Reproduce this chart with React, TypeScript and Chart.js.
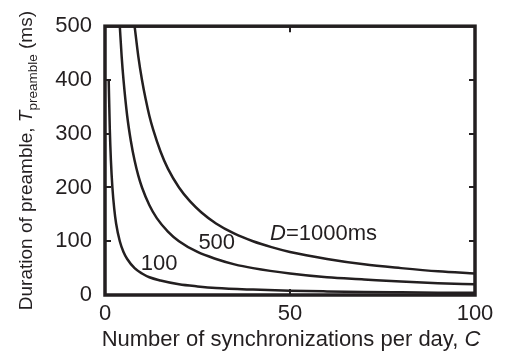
import React, { useEffect, useRef } from "react";
import { Chart, registerables } from "chart.js";

Chart.register(...registerables);

// Curve data: C (synchronizations/day) vs T_preamble (ms)
const cD100 = [1, 1.3, 1.6, 2, 2.5, 3, 4, 5, 6, 8, 10, 12, 15, 20, 25, 30, 40, 50, 60, 70, 80, 90, 100];
const tD100 = [400, 308, 250, 200, 160, 133, 100, 80, 67, 50, 40, 33, 27, 20, 16, 13, 10, 8, 6.7, 5.7, 5, 4.4, 4];

const cD500 = [4, 4.5, 5, 6, 7, 8, 9, 10, 12, 14, 17, 20, 25, 30, 35, 40, 50, 60, 70, 80, 90, 100];
const tD500 = [500, 444, 400, 333, 286, 250, 222, 200, 167, 143, 118, 100, 80, 67, 57, 50, 40, 33, 29, 25, 22, 20];

const cD1000 = [8, 9, 10, 11, 12, 13, 15, 17, 20, 23, 26, 30, 35, 40, 45, 50, 60, 70, 80, 90, 100];
const tD1000 = [500, 444, 400, 364, 333, 308, 267, 235, 200, 174, 154, 133, 114, 100, 89, 80, 67, 57, 50, 44, 40];

const seriesNames = ["100", "500", "D=1000ms"];
const labelC = [14.6, 30.2, 44.6];
const labelT = [57, 96, 113];

const xTicks = [0, 50, 100];
const yTicks = [0, 100, 200, 300, 400, 500];

const INK = "#231f20";
const FONT = '"Liberation Sans", Arial, sans-serif';

const toPts = (xs: number[], ys: number[]) => xs.map((x, i) => ({ x, y: ys[i] }));

const overlay = {
  id: "overlay",
  afterDraw(chart: any) {
    const { ctx, chartArea, scales } = chart;
    const { left, right, top, bottom } = chartArea;
    const xs = scales.x;
    const ys = scales.y;
    ctx.save();
    ctx.strokeStyle = INK;
    ctx.fillStyle = INK;
    // inward ticks
    ctx.lineWidth = 2;
    const tl = 5;
    yTicks.forEach((v) => {
      if (v === 0 || v === 500) return;
      const py = Math.round(ys.getPixelForValue(v));
      ctx.beginPath();
      ctx.moveTo(left, py);
      ctx.lineTo(left + tl + 1, py);
      ctx.moveTo(right, py);
      ctx.lineTo(right - tl - 1, py);
      ctx.stroke();
    });
    xTicks.forEach((v) => {
      if (v === 0 || v === 100) return;
      const px = Math.round(xs.getPixelForValue(v));
      ctx.beginPath();
      ctx.moveTo(px, bottom);
      ctx.lineTo(px, bottom - tl - 1);
      ctx.moveTo(px, top);
      ctx.lineTo(px, top + tl + 1);
      ctx.stroke();
    });
    // frame
    ctx.lineWidth = 3.5;
    ctx.strokeRect(left, top, right - left, bottom - top);

    // curve labels
    ctx.font = `22px ${FONT}`;
    ctx.textBaseline = "middle";
    seriesNames.forEach((name, i) => {
      const px = xs.getPixelForValue(labelC[i]);
      const py = ys.getPixelForValue(labelT[i]);
      if (name.startsWith("D=")) {
        ctx.textAlign = "left";
        ctx.font = `italic 22px ${FONT}`;
        ctx.fillText("D", px, py);
        const w = ctx.measureText("D").width;
        ctx.font = `22px ${FONT}`;
        ctx.fillText(name.slice(1), px + w, py);
      } else {
        ctx.textAlign = "center";
        ctx.fillText(name, px, py);
      }
    });

    // x title
    ctx.textBaseline = "alphabetic";
    ctx.textAlign = "left";
    const xa = "Number of synchronizations per day, ";
    ctx.font = `22px ${FONT}`;
    const wa = ctx.measureText(xa).width;
    ctx.font = `italic 22px ${FONT}`;
    const wc = ctx.measureText("C").width;
    const xStart = (left + right) / 2 + 1 - (wa + wc) / 2;
    ctx.font = `22px ${FONT}`;
    ctx.fillText(xa, xStart, 346);
    ctx.font = `italic 22px ${FONT}`;
    ctx.fillText("C", xStart + wa, 346);

    // y title (rotated)
    const parts = [
      { t: "Duration of preamble, ", f: `19px ${FONT}`, dy: 0 },
      { t: "T", f: `italic 19px ${FONT}`, dy: 0 },
      { t: "preamble", f: `13.5px ${FONT}`, dy: 5 },
      { t: " (ms)", f: `19px ${FONT}`, dy: 0 },
    ];
    let total = 0;
    const widths = parts.map((p) => {
      ctx.font = p.f;
      const w = ctx.measureText(p.t).width;
      total += w;
      return w;
    });
    ctx.translate(32, (top + bottom) / 2 + 0);
    ctx.rotate(-Math.PI / 2);
    let cx = -total / 2;
    parts.forEach((p, i) => {
      ctx.font = p.f;
      ctx.fillText(p.t, cx, p.dy);
      cx += widths[i];
    });
    ctx.restore();
  },
};

export default function App() {
  const ref = useRef<HTMLCanvasElement | null>(null);
  useEffect(() => {
    document.body.style.margin = "0";
    const canvas = ref.current;
    if (!canvas) return;
    const mk = (xs: number[], ys: number[]) => ({
      data: toPts(xs, ys),
      borderColor: INK,
      borderWidth: 2.5,
      pointRadius: 0,
      fill: false,
      cubicInterpolationMode: "monotone" as const,
    });
    const chart = new Chart(canvas, {
      type: "line",
      data: {
        datasets: [mk(cD100, tD100), mk(cD500, tD500), mk(cD1000, tD1000)],
      },
      options: {
        animation: false,
        responsive: false,
        devicePixelRatio: 1,
        layout: { padding: { top: 25, right: 38, left: 0, bottom: 0 } },
        plugins: { legend: { display: false }, tooltip: { enabled: false } },
        scales: {
          x: {
            type: "linear",
            min: 0,
            max: 100,
            afterBuildTicks: (s: any) => {
              s.ticks = xTicks.map((v) => ({ value: v }));
            },
            afterFit: (s: any) => {
              s.height = 66;
            },
            grid: { display: false, drawTicks: false },
            border: { display: false },
            ticks: { font: { size: 22, family: FONT }, color: INK, padding: 6, maxRotation: 0 },
          },
          y: {
            type: "linear",
            min: 0,
            max: 500,
            afterBuildTicks: (s: any) => {
              s.ticks = yTicks.map((v) => ({ value: v }));
            },
            afterFit: (s: any) => {
              s.width = 105;
            },
            grid: { display: false, drawTicks: false },
            border: { display: false },
            ticks: { font: { size: 22, family: FONT }, color: INK, padding: 13 },
          },
        },
      },
      plugins: [overlay],
    });
    return () => chart.destroy();
  }, []);
  return (
    <div style={{ width: 513, height: 361 }}>
      <canvas ref={ref} width={513} height={361} />
    </div>
  );
}
